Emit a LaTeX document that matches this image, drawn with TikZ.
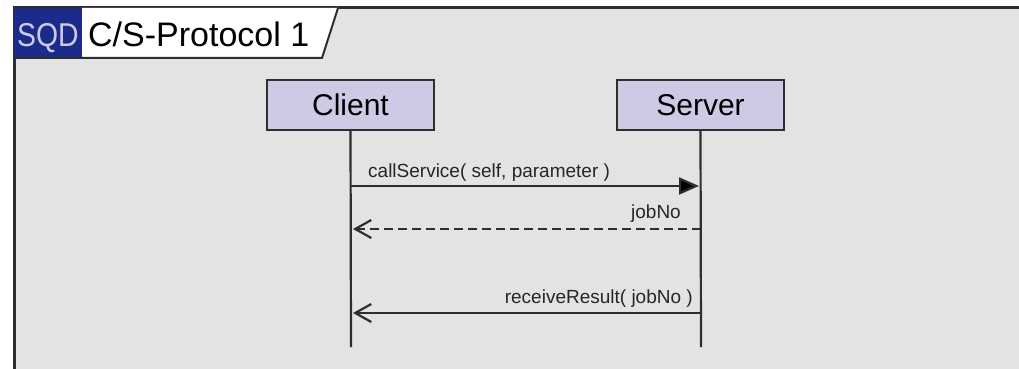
\documentclass[tikz,border=0pt]{standalone}
\usepackage{fontspec}
\setmainfont{Liberation Sans}
\usetikzlibrary{arrows.meta}
\definecolor{bggray}{HTML}{E3E3E3}
\definecolor{sqdblue}{HTML}{1B2B8C}
\definecolor{boxfill}{HTML}{CCCAE4}
\definecolor{linecol}{HTML}{2E2E2E}
\definecolor{txtcol}{HTML}{262626}
\tikzset{
  lifebox/.style={draw=linecol, line width=2.2pt, fill=boxfill, minimum width=167pt, minimum height=50pt, inner sep=0pt, font=\fontsize{30}{36}\selectfont, text=black},
  lifeline/.style={draw=linecol, line width=2.2pt},
  msgsync/.style={draw=linecol, line width=2.2pt, -{Triangle[length=20pt,width=17pt,fill=black]}},
  msgreply/.style={draw=linecol, line width=2.2pt, dashed, dash pattern=on 9pt off 5pt, -{Straight Barb[length=16pt,width=18pt,line width=2.2pt]}},
  msgasync/.style={draw=linecol, line width=2.2pt, -{Straight Barb[length=16pt,width=18pt,line width=2.2pt]}},
  msglabel/.style={font=\fontsize{19}{22}\selectfont, text=txtcol, inner sep=0pt},
  frameline/.style={draw=linecol, line width=3pt}
}
\begin{document}
\begin{tikzpicture}[x=1pt,y=-1pt]
\useasboundingbox (0,0) rectangle (1019,369);
\fill[white] (0,0) rectangle (1019,369);
% frame
\fill[bggray] (14,8) rectangle (1019,369);
\draw[frameline] (1019,8) -- (14,8) -- (14,369);
% tab
\fill[white] (82,8) -- (338,8) -- (322,58) -- (82,58) -- cycle;
\draw[draw=linecol, line width=2pt] (338,8) -- (322,58) -- (14,58);
\fill[sqdblue] (14,8) rectangle (82,57);
\node[anchor=base west, inner sep=0pt, text=boxfill, font=\fontsize{33}{38}\selectfont] (sqd) at (17,47) {\scalebox{0.86}[1]{SQD}};
\node[anchor=base west, inner sep=0pt, text=black, font=\fontsize{34}{40}\selectfont] (title) at (88,47) {C/S-Protocol 1};
% lifelines
\node[lifebox] (client) at (350.5,105) {Client};
\node[lifebox] (server) at (700.5,105) {Server};
\coordinate (cend) at (351,347);
\coordinate (send) at (701,347);
\draw[lifeline] (client.south) -- (cend);
\draw[lifeline] (server.south) -- (send);
% message points
\coordinate (c1) at (351,186);
\coordinate (s1) at (699,186);
\coordinate (c2) at (353,229);
\coordinate (s2) at (701,229);
\coordinate (c3) at (353,313);
\coordinate (s3) at (701,313);
\draw[msgsync] (c1) -- (s1);
\draw[msgreply] (s2) -- (c2);
\draw[msgasync] (s3) -- (c3);
\node[msglabel, anchor=base west] (l1) at (368,177) {callService( self, parameter )};
\node[msglabel, anchor=base east] (l2) at (681,218) {jobNo};
\node[msglabel, anchor=base east] (l3) at (693,303) {receiveResult( jobNo )};
\end{tikzpicture}
\end{document}
